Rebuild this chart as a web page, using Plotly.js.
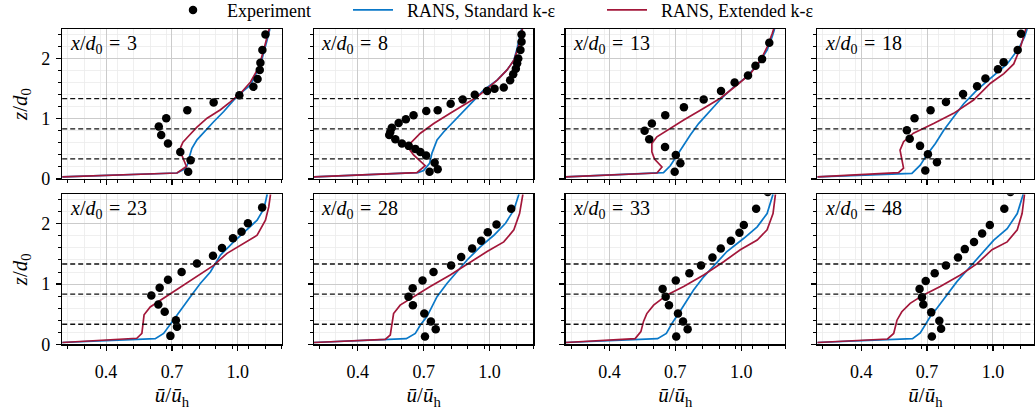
<!DOCTYPE html>
<html>
<head>
<meta charset="utf-8">
<script src="https://cdn.plot.ly/plotly-3.0.1.min.js"></script>
<style>
  html, body { margin: 0; padding: 0; background: #fff; }
  #chart { width: 1035px; height: 412px; }
</style>
</head>
<body>
<div id="chart"></div>
<script>
// Downstream stations x/d0 of the eight velocity profiles
const stations = [3, 8, 13, 18, 23, 28, 33, 48];
// Reference heights z/d0 marked by dashed lines
const refHeights = [0.333, 0.833, 1.333];

// ---- Experiment (u/u_h, z/d0) ----
const exp3U  = [1.126, 1.112, 1.103, 1.100, 1.090, 1.071, 1.007, 0.890, 0.770, 0.674, 0.640, 0.651, 0.682, 0.738, 0.785, 0.774];
const exp3Z  = [2.40, 2.14, 1.93, 1.81, 1.66, 1.53, 1.39, 1.27, 1.14, 1.01, 0.87, 0.73, 0.59, 0.45, 0.31, 0.12];
const exp8U  = [1.146, 1.146, 1.141, 1.131, 1.126, 1.120, 1.108, 1.094, 1.065, 1.023, 0.989, 0.933, 0.878, 0.823, 0.764, 0.712, 0.654, 0.619, 0.586, 0.555, 0.548, 0.543, 0.571, 0.601, 0.632, 0.662, 0.685, 0.711, 0.750, 0.764, 0.727];
const exp8Z  = [2.40, 2.28, 2.14, 2.00, 1.92, 1.83, 1.74, 1.64, 1.52, 1.50, 1.46, 1.40, 1.32, 1.25, 1.14, 1.13, 1.06, 0.99, 0.93, 0.85, 0.78, 0.73, 0.66, 0.59, 0.55, 0.50, 0.45, 0.39, 0.27, 0.16, 0.12];
const exp13U = [1.128, 1.095, 1.065, 1.031, 0.970, 0.908, 0.829, 0.739, 0.654, 0.593, 0.560, 0.581, 0.653, 0.702, 0.723, 0.697];
const exp13Z = [2.26, 1.99, 1.88, 1.72, 1.60, 1.46, 1.32, 1.19, 1.06, 0.92, 0.80, 0.66, 0.53, 0.40, 0.26, 0.12];
const exp18U = [1.128, 1.113, 1.049, 1.023, 0.966, 0.928, 0.864, 0.786, 0.716, 0.643, 0.608, 0.621, 0.668, 0.704, 0.745, 0.692];
const exp18Z = [2.41, 2.14, 1.94, 1.82, 1.67, 1.54, 1.41, 1.28, 1.14, 1.01, 0.81, 0.67, 0.55, 0.41, 0.28, 0.14];
const exp23U = [1.111, 1.046, 1.017, 0.978, 0.928, 0.887, 0.814, 0.744, 0.682, 0.644, 0.606, 0.638, 0.667, 0.718, 0.723, 0.693];
const exp23Z = [2.27, 2.01, 1.87, 1.76, 1.60, 1.47, 1.34, 1.20, 1.07, 0.94, 0.81, 0.66, 0.54, 0.40, 0.29, 0.14];
const exp28U = [1.099, 1.032, 0.992, 0.962, 0.921, 0.871, 0.825, 0.745, 0.695, 0.650, 0.631, 0.651, 0.703, 0.733, 0.755, 0.706];
const exp28Z = [2.25, 1.99, 1.86, 1.72, 1.59, 1.45, 1.31, 1.20, 1.06, 0.93, 0.79, 0.65, 0.51, 0.38, 0.25, 0.13];
const exp33U = [1.121, 1.068, 1.012, 0.992, 0.953, 0.907, 0.869, 0.817, 0.764, 0.702, 0.642, 0.656, 0.671, 0.712, 0.735, 0.756, 0.704];
const exp33Z = [2.53, 2.25, 1.98, 1.85, 1.72, 1.59, 1.44, 1.31, 1.18, 1.06, 0.92, 0.79, 0.65, 0.51, 0.38, 0.25, 0.13];
const exp48U = [1.080, 1.052, 0.986, 0.951, 0.914, 0.872, 0.841, 0.786, 0.735, 0.694, 0.666, 0.677, 0.683, 0.719, 0.756, 0.764, 0.722];
const exp48Z = [2.53, 2.25, 1.98, 1.84, 1.70, 1.58, 1.44, 1.31, 1.18, 1.05, 0.92, 0.78, 0.66, 0.53, 0.39, 0.26, 0.13];

// ---- RANS, standard k-epsilon ----
const std3U  = [0.2, 0.723, 0.760, 0.772, 0.778, 0.791, 0.814, 0.845, 0.890, 0.936, 0.981, 1.012, 1.058, 1.088, 1.111, 1.133, 1.146];
const std3Z  = [0.035, 0.10, 0.17, 0.25, 0.35, 0.51, 0.65, 0.78, 0.95, 1.12, 1.31, 1.42, 1.56, 1.78, 2.00, 2.30, 2.49];
const std8U  = [0.2, 0.674, 0.700, 0.727, 0.738, 0.761, 0.791, 0.837, 0.882, 0.928, 0.974, 1.035, 1.080, 1.111, 1.126, 1.138, 1.146];
const std8Z  = [0.035, 0.105, 0.14, 0.26, 0.43, 0.65, 0.78, 0.95, 1.13, 1.30, 1.48, 1.64, 1.81, 1.97, 2.17, 2.36, 2.49];
const std13U = [0.2, 0.616, 0.646, 0.677, 0.704, 0.737, 0.768, 0.806, 0.859, 0.905, 0.966, 1.026, 1.080, 1.118, 1.141, 1.152];
const std13Z = [0.035, 0.094, 0.105, 0.22, 0.37, 0.56, 0.73, 0.92, 1.14, 1.32, 1.53, 1.70, 1.92, 2.14, 2.36, 2.49];
const std18U = [0.2, 0.631, 0.669, 0.699, 0.738, 0.776, 0.821, 0.867, 0.928, 1.004, 1.065, 1.118, 1.144, 1.156];
const std18Z = [0.035, 0.094, 0.23, 0.40, 0.59, 0.81, 1.03, 1.25, 1.48, 1.72, 1.91, 2.17, 2.36, 2.49];
const std23U = [0.2, 0.624, 0.662, 0.685, 0.707, 0.746, 0.784, 0.829, 0.875, 0.921, 0.981, 1.042, 1.088, 1.119, 1.134];
const std23Z = [0.03, 0.094, 0.18, 0.29, 0.40, 0.60, 0.79, 1.01, 1.20, 1.48, 1.70, 1.90, 2.06, 2.25, 2.49];
const std28U = [0.2, 0.621, 0.662, 0.685, 0.715, 0.761, 0.806, 0.852, 0.898, 0.959, 1.020, 1.073, 1.111, 1.134];
const std28Z = [0.03, 0.094, 0.18, 0.32, 0.46, 0.79, 1.01, 1.20, 1.40, 1.62, 1.81, 2.01, 2.23, 2.49];
const std33U = [0.2, 0.619, 0.659, 0.685, 0.715, 0.738, 0.783, 0.829, 0.875, 0.935, 1.012, 1.073, 1.118, 1.145];
const std33Z = [0.03, 0.094, 0.18, 0.35, 0.51, 0.65, 0.90, 1.12, 1.31, 1.54, 1.76, 1.95, 2.17, 2.49];
const std48U = [0.2, 0.634, 0.669, 0.692, 0.715, 0.745, 0.791, 0.836, 0.882, 0.943, 1.004, 1.065, 1.111, 1.138];
const std48Z = [0.03, 0.094, 0.19, 0.32, 0.46, 0.60, 0.82, 1.04, 1.23, 1.48, 1.73, 1.92, 2.17, 2.49];

// ---- RANS, extended k-epsilon ----
const ext3U  = [0.2, 0.723, 0.766, 0.752, 0.740, 0.740, 0.750, 0.775, 0.814, 0.860, 0.921, 0.966, 1.012, 1.058, 1.096, 1.118, 1.133, 1.143];
const ext3Z  = [0.035, 0.10, 0.21, 0.33, 0.44, 0.53, 0.61, 0.71, 0.86, 1.01, 1.15, 1.28, 1.42, 1.61, 1.86, 2.14, 2.33, 2.49];
const ext8U  = [0.2, 0.669, 0.707, 0.680, 0.654, 0.632, 0.639, 0.685, 0.746, 0.821, 0.897, 0.943, 0.989, 1.035, 1.080, 1.111, 1.130, 1.140, 1.150];
const ext8Z  = [0.035, 0.105, 0.22, 0.31, 0.40, 0.51, 0.59, 0.76, 0.92, 1.09, 1.25, 1.36, 1.50, 1.64, 1.81, 1.97, 2.17, 2.36, 2.49];
const ext13U = [0.2, 0.616, 0.639, 0.605, 0.593, 0.593, 0.616, 0.662, 0.738, 0.814, 0.905, 0.981, 1.042, 1.088, 1.118, 1.141, 1.148];
const ext13Z = [0.035, 0.10, 0.20, 0.33, 0.45, 0.59, 0.70, 0.81, 0.98, 1.14, 1.34, 1.56, 1.75, 1.97, 2.19, 2.41, 2.49];
const ext18U = [0.2, 0.570, 0.593, 0.582, 0.577, 0.593, 0.638, 0.730, 0.821, 0.912, 0.989, 1.050, 1.095, 1.126, 1.144, 1.150];
const ext18Z = [0.035, 0.105, 0.18, 0.37, 0.48, 0.62, 0.76, 0.92, 1.09, 1.31, 1.59, 1.75, 1.91, 2.19, 2.41, 2.49];
const ext23U = [0.2, 0.540, 0.563, 0.567, 0.573, 0.601, 0.647, 0.723, 0.814, 0.890, 0.951, 1.027, 1.088, 1.126, 1.141, 1.149];
const ext23Z = [0.03, 0.10, 0.18, 0.29, 0.49, 0.62, 0.73, 0.90, 1.12, 1.31, 1.51, 1.67, 1.81, 2.06, 2.28, 2.49];
const ext28U = [0.2, 0.525, 0.548, 0.555, 0.563, 0.593, 0.654, 0.730, 0.821, 0.913, 0.989, 1.065, 1.111, 1.137, 1.152];
const ext28Z = [0.03, 0.083, 0.155, 0.29, 0.51, 0.65, 0.79, 0.96, 1.15, 1.37, 1.54, 1.70, 1.90, 2.17, 2.49];
const ext33U = [0.2, 0.517, 0.543, 0.555, 0.570, 0.601, 0.662, 0.738, 0.829, 0.920, 0.996, 1.073, 1.118, 1.145, 1.156];
const ext33Z = [0.03, 0.094, 0.21, 0.38, 0.51, 0.65, 0.82, 0.96, 1.15, 1.37, 1.57, 1.73, 1.90, 2.17, 2.49];
const ext48U = [0.2, 0.520, 0.548, 0.563, 0.585, 0.623, 0.684, 0.760, 0.852, 0.928, 0.996, 1.065, 1.111, 1.133, 1.144];
const ext48Z = [0.03, 0.088, 0.18, 0.40, 0.54, 0.68, 0.82, 0.96, 1.15, 1.34, 1.57, 1.70, 1.90, 2.17, 2.49];

const expU = [exp3U, exp8U, exp13U, exp18U, exp23U, exp28U, exp33U, exp48U];
const expZ = [exp3Z, exp8Z, exp13Z, exp18Z, exp23Z, exp28Z, exp33Z, exp48Z];
const stdU = [std3U, std8U, std13U, std18U, std23U, std28U, std33U, std48U];
const stdZ = [std3Z, std8Z, std13Z, std18Z, std23Z, std28Z, std33Z, std48Z];
const extU = [ext3U, ext8U, ext13U, ext18U, ext23U, ext28U, ext33U, ext48U];
const extZ = [ext3Z, ext8Z, ext13Z, ext18Z, ext23Z, ext28Z, ext33Z, ext48Z];

const FONT = 'Liberation Serif, Times New Roman, serif';
const BLUE = '#0a78c8';
const RED = '#a3173a';
const W = 1035, H = 412;

// panel geometry in pixels
const colLeft = [62.2, 313.9, 565.6, 817.3];
const rowTop = [29, 194.3];
const panelW = 219.5, panelH = 150;
const pxPerUnit = 219.5;

const legendBase = { xanchor: 'left', y: 1.02, yanchor: 'top', orientation: 'h', itemwidth: 40,
                     font: { family: FONT, size: 18, color: '#000' }, bgcolor: 'rgba(0,0,0,0)' };

const traces = [];
const layout = {
  width: W, height: H,
  margin: { l: 0, r: 0, t: 0, b: 0, autoexpand: false },
  paper_bgcolor: '#ffffff', plot_bgcolor: '#ffffff',
  font: { family: FONT, size: 18, color: '#000' },
  showlegend: true,
  shapes: [], annotations: [],
  legend:  Object.assign({ x: 168 / W }, legendBase),
  legend2: Object.assign({ x: 348 / W }, legendBase),
  legend3: Object.assign({ x: 602 / W }, legendBase)
};

for (let k = 0; k < 8; k++) {
  const col = k % 4, row = Math.floor(k / 4);
  const id = k === 0 ? '' : String(k + 1);
  const left = colLeft[col];
  const right = Math.min(left + panelW, 1033.5);
  const top = rowTop[row], bottom = top + panelH;

  const xa = {
    domain: [left / W, right / W],
    range: [0.2, 0.2 + (right - left) / pxPerUnit],
    anchor: 'y' + id,
    tickmode: 'linear', tick0: 0.1, dtick: 0.3, tickformat: '.1f',
    ticks: 'outside', ticklen: 5, tickwidth: 1.2, tickcolor: '#000',
    ticklabelstandoff: 6,
    showticklabels: row === 1,
    tickfont: { family: FONT, size: 18, color: '#000' },
    showgrid: true, gridcolor: '#cbcbcb', gridwidth: 1,
    minor: { dtick: 0.075, ticks: 'outside', ticklen: 3, tickwidth: 1, tickcolor: '#000', showgrid: true, gridcolor: '#ebebeb', gridwidth: 0.8 },
    showline: true, linecolor: '#000', linewidth: 1.3, mirror: true, zeroline: false
  };
  if (row === 1) {
    xa.title = { text: '<i>ū</i>/<i>ū</i><sub>h</sub>', font: { family: FONT, size: 21, color: '#000' }, standoff: 6 };
  }
  layout['xaxis' + id] = xa;

  const ya = {
    domain: [1 - bottom / H, 1 - top / H],
    range: [0, 2.49],
    anchor: 'x' + id,
    tickmode: 'linear', tick0: 0, dtick: 1,
    ticks: 'outside', ticklen: 5, tickwidth: 1.2, tickcolor: '#000',
    ticklabelstandoff: 2,
    showticklabels: col === 0,
    tickfont: { family: FONT, size: 18, color: '#000' },
    showgrid: true, gridcolor: '#cbcbcb', gridwidth: 1,
    minor: { dtick: 0.2, ticks: 'outside', ticklen: 3, tickwidth: 1, tickcolor: '#000', showgrid: true, gridcolor: '#ebebeb', gridwidth: 0.8 },
    showline: true, linecolor: '#000', linewidth: 1.3, mirror: true, zeroline: false
  };
  if (col === 0) {
    ya.title = { text: '<i>z</i>/<i>d</i><sub>0</sub>', font: { family: FONT, size: 21, color: '#000' }, standoff: 8 };
  }
  layout['yaxis' + id] = ya;

  // dashed reference heights
  refHeights.forEach(h => {
    layout.shapes.push({
      type: 'line', xref: 'x' + id + ' domain', yref: 'y' + id,
      x0: 0, x1: 1, y0: h, y1: h,
      line: { color: '#111', width: 1.3, dash: '5px,3px' }
    });
  });

  // station label
  layout.annotations.push({
    xref: 'x' + id + ' domain', yref: 'y' + id + ' domain',
    x: 0.025, y: 0.995, xanchor: 'left', yanchor: 'top', showarrow: false,
    text: '<i>x</i>/<i>d</i><sub>0</sub>\u2004=\u2004' + stations[k],
    font: { family: FONT, size: 20, color: '#000' }
  });

  traces.push({
    type: 'scatter', mode: 'lines', x: stdU[k], y: stdZ[k],
    xaxis: 'x' + id, yaxis: 'y' + id,
    line: { color: BLUE, width: 1.7 },
    name: '\u2002RANS, Standard k-ε', legend: 'legend2', showlegend: k === 0
  });
  traces.push({
    type: 'scatter', mode: 'lines', x: extU[k], y: extZ[k],
    xaxis: 'x' + id, yaxis: 'y' + id,
    line: { color: RED, width: 1.7 },
    name: '\u2002RANS, Extended k-ε', legend: 'legend3', showlegend: k === 0
  });
  traces.push({
    type: 'scatter', mode: 'markers', x: expU[k], y: expZ[k],
    xaxis: 'x' + id, yaxis: 'y' + id,
    marker: { color: '#000', size: 8.5, line: { width: 0 } },
    name: '\u2002Experiment', legend: 'legend', showlegend: k === 0
  });
}

Plotly.newPlot('chart', traces, layout, { staticPlot: true, displayModeBar: false });
</script>
</body>
</html>
